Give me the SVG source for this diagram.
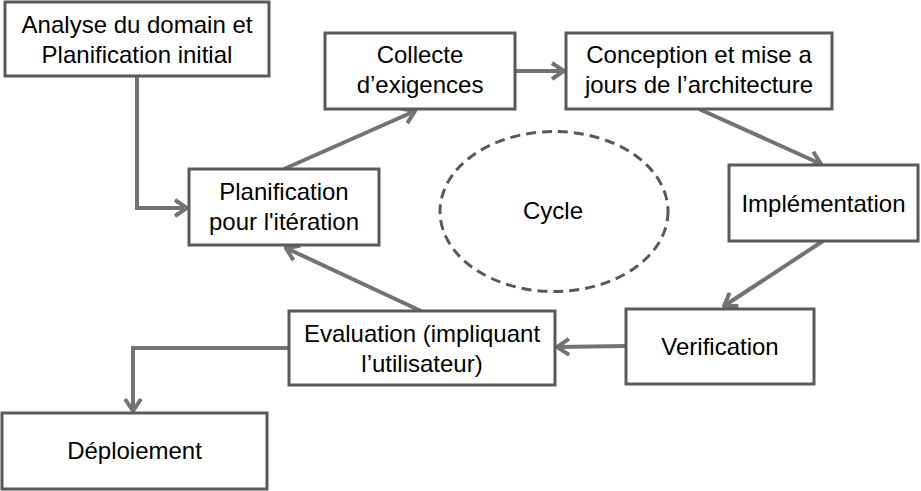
<svg xmlns="http://www.w3.org/2000/svg" width="921" height="491" viewBox="0 0 921 491">
<style>
.box{fill:#fff;stroke:#595959;stroke-width:3}
.t{font-family:"Liberation Sans",Arial,sans-serif;font-size:24px;fill:#000;text-anchor:middle}
.c{fill:none;stroke:#737373;stroke-width:4;marker-end:url(#ah)}
</style>
<defs>
<marker id="ah" markerUnits="userSpaceOnUse" viewBox="0 0 16 20" markerWidth="16" markerHeight="20" refX="14" refY="10" orient="auto">
<path d="M2,2 L14,10 L2,18" fill="none" stroke="#737373" stroke-width="4"/>
</marker>
</defs>
<rect width="921" height="491" fill="#fff"/>
<g id="connectors">
<polyline class="c" points="137,77 137,208 187,208"/>
<line class="c" x1="284" y1="169" x2="415" y2="111"/>
<line class="c" x1="515" y1="71" x2="564" y2="71"/>
<line class="c" x1="699" y1="109" x2="821" y2="164"/>
<line class="c" x1="823" y1="241" x2="724" y2="306"/>
<line class="c" x1="626" y1="346" x2="557" y2="347"/>
<line class="c" x1="421" y1="311" x2="286" y2="248"/>
<polyline class="c" points="289,348 133,348 133,411"/>
</g>
<g id="n-analyse"><rect class="box" x="5" y="2" width="264" height="74"/><text class="t" x="137" y="33">Analyse du domain et</text><text class="t" x="137" y="63">Planification initial</text></g>
<g id="n-collecte"><rect class="box" x="325" y="33" width="190" height="76"/><text class="t" x="420" y="63">Collecte</text><text class="t" x="420" y="93">d’exigences</text></g>
<g id="n-conception"><rect class="box" x="566" y="33" width="266" height="76"/><text class="t" x="699" y="63">Conception et mise a</text><text class="t" x="699" y="93">jours de l’architecture</text></g>
<g id="n-implementation"><rect class="box" x="729" y="165" width="189" height="76"/><text class="t" x="823.5" y="212">Implémentation</text></g>
<g id="n-planification"><rect class="box" x="189" y="169" width="190" height="76"/><text class="t" x="284" y="200">Planification</text><text class="t" x="284" y="230">pour l'itération</text></g>
<g id="n-cycle"><ellipse cx="554" cy="211.5" rx="114" ry="80" fill="none" stroke="#595959" stroke-width="3" stroke-dasharray="10,6"/><text class="t" x="553" y="219">Cycle</text></g>
<g id="n-evaluation"><rect class="box" x="289" y="311" width="266" height="74"/><text class="t" x="422" y="342">Evaluation (impliquant</text><text class="t" x="422" y="372">l’utilisateur)</text></g>
<g id="n-verification"><rect class="box" x="626" y="309" width="188" height="75"/><text class="t" x="720" y="355">Verification</text></g>
<g id="n-deploiement"><rect class="box" x="2" y="413" width="265" height="76"/><text class="t" x="134.5" y="459">Déploiement</text></g>
</svg>
